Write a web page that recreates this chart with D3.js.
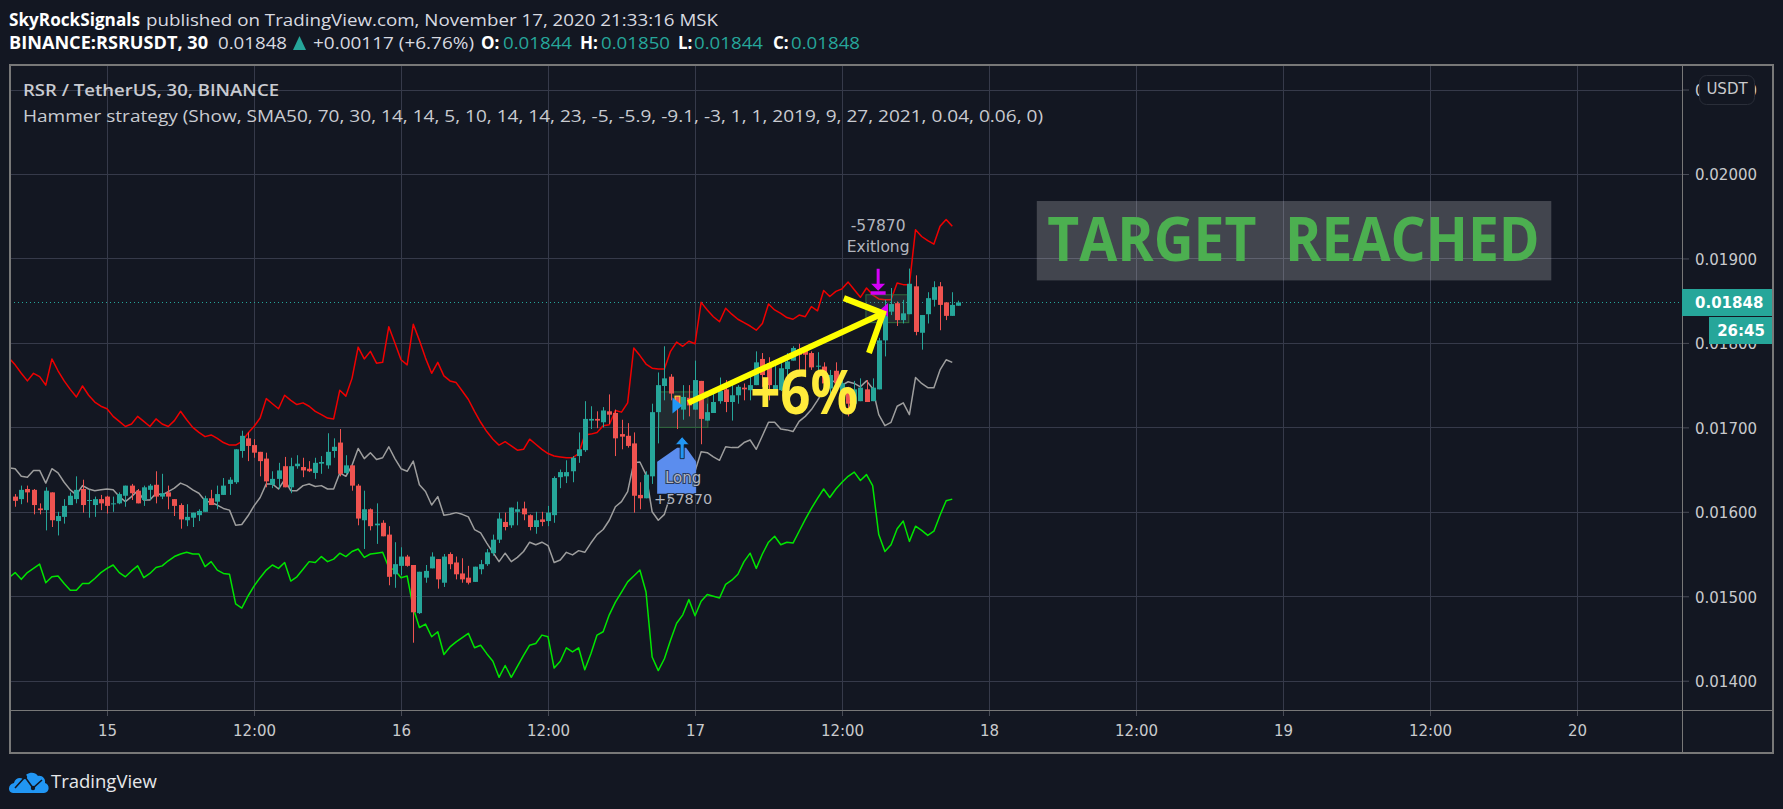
<!DOCTYPE html>
<html>
<head>
<meta charset="utf-8">
<script src="https://cdn.jsdelivr.net/npm/d3@7"></script>
<style>
html,body{margin:0;padding:0;background:#131722;overflow:hidden}
svg{display:block}
text{font-family:"DejaVu Sans",sans-serif}
</style>
</head>
<body>
<svg id="c" width="1783" height="809"></svg>
<script>
// Values in 0.00001 USDT. Bar 0 = Nov 15 00:00, 30-minute bars.
const PRICE_UNIT = 1e-5;
const firstCandleBar = -15;
const opens = [1618,1615,1627,1626,1604,1602,1623,1589,1594,1608,1615,1627,1613,1608,1615,
1618,1609,1610,1619,1631,1625,1614,1626,1632,1618,1623,1615,1608,1590,1593,1596,1600,1616,1612,1620,1633,1635,1672,1687,1679,1671,1663,1632,1639,1654,1629,1654,1653,1651,1646,1657,1655,
1672,1682,1646,1655,1631,1590,1603,1584,1587,1573,1526,1536,1547,1537,1480,1522,1533,1544,1516,1550,1540,1527,1522,1517,1532,1538,1551,1567,1588,1584,1600,1604,1596,1582,1591,1589,1596,1641,1642,1648,1666,1673,1708,1710,1706,1719,1717,1692,1690,1681,1620,1616,
1642,1718,1749,1760,1737,1721,1735,1721,1755,1708,1717,1731,1745,1730,1738,1747,1744,1750,1781,1776,1744,1744,1769,1779,1792,1792,1788,1772,1772,1746,1767,1738,1747,1728,1731,1745,1731,
1745,1803,1837,1847,1827,1834,1867,1812,1834,1851,1867,1848,1832,1844];
const highs = [1621,1631,1631,1627,1610,1629,1623,1600,1615,1623,1642,1638,1626,1618,1620,
1619,1618,1623,1631,1633,1627,1631,1633,1648,1645,1631,1615,1610,1609,1599,1603,1619,1626,1631,1640,1641,1674,1696,1694,1686,1671,1670,1648,1658,1665,1664,1667,1664,1660,1664,1666,1693,
1687,1698,1667,1655,1633,1625,1604,1610,1590,1583,1564,1558,1549,1537,1529,1537,1552,1544,1550,1552,1547,1545,1536,1535,1543,1556,1573,1599,1599,1605,1612,1612,1597,1600,1600,1607,1642,1650,1661,1666,1694,1731,1725,1719,1724,1739,1721,1709,1705,1694,1635,1648,
1728,1765,1796,1763,1737,1750,1750,1779,1755,1728,1744,1759,1756,1752,1750,1752,1760,1790,1788,1783,1776,1776,1788,1796,1799,1796,1790,1789,1777,1768,1777,1760,1748,1755,1758,1756,1758,
1806,1851,1865,1849,1851,1888,1880,1833,1860,1873,1872,1848,1860,1850];
const lows = [1606,1609,1611,1597,1597,1578,1582,1572,1586,1608,1610,1599,1593,1594,1602,
1598,1600,1609,1606,1614,1610,1607,1614,1610,1615,1603,1595,1580,1583,1582,1589,1600,1608,1603,1620,1620,1633,1664,1660,1664,1642,1629,1628,1627,1629,1622,1651,1641,1647,1639,1645,1651,
1664,1642,1645,1625,1584,1556,1578,1562,1571,1513,1510,1525,1535,1445,1479,1516,1533,1509,1511,1532,1520,1516,1514,1517,1526,1536,1548,1563,1578,1581,1584,1590,1578,1574,1583,1583,1587,1628,1634,1635,1658,1671,1698,1699,1700,1704,1666,1674,1676,1599,1603,1616,
1633,1681,1732,1732,1698,1709,1713,1721,1680,1708,1717,1728,1718,1708,1728,1732,1732,1750,1748,1732,1742,1743,1758,1779,1768,1768,1768,1758,1746,1734,1744,1732,1713,1724,1731,1730,1731,
1745,1784,1833,1820,1823,1834,1809,1792,1823,1843,1815,1827,1832,1844];
const closes = [1613,1626,1623,1608,1602,1625,1590,1595,1607,1619,1626,1608,1614,1615,1610,
1607,1610,1621,1631,1622,1610,1629,1631,1618,1622,1618,1607,1591,1594,1599,1601,1616,1608,1621,1631,1638,1674,1690,1678,1670,1660,1636,1639,1649,1629,1654,1657,1649,1648,1658,1659,1671,
1677,1645,1655,1631,1592,1603,1583,1586,1571,1523,1538,1547,1536,1481,1529,1530,1547,1520,1547,1538,1526,1520,1516,1535,1538,1552,1567,1592,1582,1605,1603,1597,1582,1590,1588,1599,1640,1647,1647,1664,1674,1710,1710,1708,1720,1715,1687,1689,1678,1619,1616,1644,
1718,1750,1758,1740,1728,1736,1726,1756,1710,1718,1730,1743,1730,1738,1748,1745,1750,1777,1762,1750,1750,1770,1778,1794,1786,1786,1771,1773,1752,1762,1752,1752,1728,1745,1747,1730,1747,
1803,1832,1846,1827,1835,1870,1813,1833,1853,1866,1845,1832,1845,1848];

const firstLineBar = -16;
const upperBand = [1782,1774,1764,1755,1764,1760,1750,1781,1767,1755,1745,1736,1749,1738,1730,1725,
1722,1713,1707,1701,1704,1713,1707,1701,1710,1704,1701,1708,1719,1709,1700,1694,1689,1691,1687,1682,1679,1679,1683,1693,1701,1711,1734,1728,1722,1738,1732,1727,1729,1725,1719,1715,1711,
1710,1744,1737,1758,1795,1781,1790,1776,1777,1819,1800,1780,1774,1822,1803,1782,1764,1777,1761,1755,1753,1743,1733,1719,1706,1695,1686,1679,1683,1678,1673,1674,1686,1680,1674,1669,1666,1665,1664,1664,1669,1691,1692,1694,1702,1703,1720,1718,1729,1794,1785,1775,
1770,1769,1769,1790,1801,1796,1802,1799,1848,1839,1831,1825,1841,1834,1828,1824,1820,1815,1823,1846,1839,
1835,1830,1828,1833,1831,1843,1838,1862,1855,1861,1864,1872,1863,1854,1865,1857,1852,1851,1851,1871,1869,1869,1934,1926,1921,1917,1938,1946,1938];
const middleBand = [1652,1651,1642,1641,1649,1649,1634,1651,1646,1635,1626,1620,1631,1627,1625,1626,
1627,1626,1618,1612,1618,1625,1614,1614,1622,1620,1624,1628,1634,1631,1626,1622,1613,1611,1608,1604,1602,1584,1585,1595,1607,1617,1633,1633,1627,1638,1625,1625,1631,1633,1630,1631,1627,
1627,1646,1642,1655,1675,1663,1670,1662,1664,1677,1663,1651,1648,1660,1632,1624,1608,1618,1596,1597,1599,1597,1594,1579,1575,1563,1552,1541,1551,1541,1546,1553,1564,1561,1564,1560,1540,1543,1552,1549,1554,1552,1563,1573,1579,1590,1606,1612,1624,1658,1659,1644,
1600,1590,1597,1620,1630,1634,1638,1648,1671,1670,1665,1661,1677,1676,1676,1682,1685,1674,1690,1706,1706,1698,1697,1695,1707,1713,1721,1732,1744,1752,1756,1750,1754,1752,1748,1755,1746,1715,1702,1706,1725,1729,1715,1759,1752,1747,1747,1768,1780,1777];
const lowerBand = [1522,1528,1520,1528,1533,1538,1516,1523,1524,1515,1507,1507,1515,1515,1521,1528,
1533,1537,1528,1523,1530,1536,1522,1527,1534,1536,1542,1547,1550,1552,1550,1550,1535,1541,1531,1527,1526,1491,1486,1500,1512,1522,1531,1537,1533,1540,1518,1523,1532,1541,1540,1547,1541,
1544,1551,1547,1553,1556,1546,1550,1551,1552,1534,1531,1522,1524,1486,1463,1467,1452,1458,1431,1440,1446,1451,1456,1439,1442,1432,1423,1404,1418,1404,1417,1430,1442,1444,1454,1452,1415,1423,1439,1434,1439,1413,1432,1454,1458,1478,1493,1505,1517,1524,1531,1505,
1428,1412,1426,1448,1468,1478,1496,1477,1494,1502,1500,1498,1514,1519,1526,1541,1551,1533,1550,1564,1571,1561,1564,1563,1577,1591,1604,1616,1627,1617,1627,1635,1642,1647,1637,1644,1631,1573,1553,1561,1580,1589,1565,1583,1578,1572,1577,1596,1613,1615];

const priceTicks = [0.014,0.015,0.016,0.017,0.018,0.019,0.020,0.021];
const timeTickBars = [0,24,48,72,96,120,144,168,192,216,240];
const timeTickLabels = ["15","12:00","16","12:00","17","12:00","18","12:00","19","12:00","20"];
const lastPrice = 0.01848;
const countdownText = "26:45";

// Drawings, anchored as [bar, price in 0.00001 units]
const arrowShaft = [[94.9,1729],[126.7,1835]];
const arrowBarbs = [[120.3,1853],[126.7,1835],[124.4,1788]];
const zoneLong = [[90.1,1742],[98.1,1700]];
const zoneExit = [[123.9,1857],[130.9,1824]];
const longMark = {bar:93.9, price:1689};
const longEntry = {bar:93.95, price:1726};
const exitMark = {bar:125.9, price:1857};
const exitEntry = {bar:126.2, price:1839};
const gainLabel = {bar:105, price:1716, text:"+6%"};

const W=1783,H=809,L=10,R=1682,T=65,B=710,FR=1773,FB=753;
const COL={bg:"#131722",grid:"#363a4a",frame:"#787878",up:"#26a69a",down:"#ef5350",tick:"#c9cacd"};
const SANS='"Open Sans",sans-serif';

const x=d3.scaleLinear().domain([-15.84,257.14]).range([L,R]);
const y=d3.scaleLinear().domain([0.0136531,0.0212907]).range([B,T]);
const py=v=>y(v*PRICE_UNIT);

const svg=d3.select("#c");
svg.append("rect").attr("width",W).attr("height",H).attr("fill",COL.bg);
svg.append("defs").append("clipPath").attr("id","plot").append("rect")
  .attr("x",L).attr("y",T).attr("width",R-L).attr("height",B-T);

// grid
const grid=svg.append("g");
grid.selectAll("line.h").data(priceTicks).join("line").attr("class","h")
  .attr("x1",L).attr("x2",R).attr("y1",d=>Math.round(y(d))+.5).attr("y2",d=>Math.round(y(d))+.5)
  .attr("stroke",COL.grid);
grid.selectAll("line.v").data(timeTickBars).join("line").attr("class","v")
  .attr("x1",d=>Math.round(x(d))+.5).attr("x2",d=>Math.round(x(d))+.5).attr("y1",T).attr("y2",B)
  .attr("stroke",COL.grid);

const plot=svg.append("g").attr("clip-path","url(#plot)");

// price line
plot.append("line").attr("x1",L).attr("x2",R).attr("y1",Math.round(y(lastPrice))+.5).attr("y2",Math.round(y(lastPrice))+.5)
  .attr("stroke",COL.up).attr("stroke-dasharray","1 3");

// target banner
const banner=svg.append("g");
banner.append("rect").attr("x",x(151.8)).attr("width",x(235.8)-x(151.8))
  .attr("y",py(1968)).attr("height",py(1874)-py(1968)).attr("fill","#fff").attr("fill-opacity",.2);
banner.append("text").attr("x",x(153.5)).attr("y",py(1897)).attr("textLength",x(233.9)-x(153.5))
  .attr("lengthAdjust","spacingAndGlyphs").style("font-family",SANS).style("white-space","pre")
  .attr("font-weight",700).attr("font-size",60).attr("fill","#4caf50").text("TARGET  REACHED");

// bands
const line=(arr)=>d3.line().x((d,i)=>x(firstLineBar+i)).y(d=>py(d))(arr);
[[upperBand,"#f00000"],[middleBand,"#9e9e9e"],[lowerBand,"#00e600"]].forEach(([a,c])=>
  plot.append("path").attr("d",line(a)).attr("fill","none").attr("stroke",c).attr("stroke-width",1.5).attr("stroke-linejoin","round"));

// zones
[zoneLong,zoneExit].forEach(z=>{
  plot.append("rect").attr("x",x(z[0][0])).attr("y",py(z[0][1])).attr("width",x(z[1][0])-x(z[0][0])).attr("height",py(z[1][1])-py(z[0][1]))
    .attr("fill","#6f8f7f").attr("fill-opacity",.17).attr("stroke","#2f6b3c");
});

// candles
const bars=opens.map((o,i)=>({bar:firstCandleBar+i,o,h:highs[i],l:lows[i],c:closes[i]}));
const cg=plot.selectAll("g.c").data(bars).join("g").attr("class","c");
cg.append("line")
  .attr("x1",d=>Math.round(x(d.bar))+.5).attr("x2",d=>Math.round(x(d.bar))+.5)
  .attr("y1",d=>py(d.h)).attr("y2",d=>py(d.l))
  .attr("stroke",d=>d.c>=d.o?COL.up:COL.down);
cg.append("rect")
  .attr("x",d=>Math.round(x(d.bar))-2).attr("width",5)
  .attr("y",d=>py(Math.max(d.o,d.c))).attr("height",d=>Math.max(1,Math.abs(py(d.o)-py(d.c))))
  .attr("fill",d=>d.c>=d.o?COL.up:COL.down)
  .attr("stroke",d=>d.bar===93?"#ffeb3b":"none");

// strategy marks
const mk=svg.append("g");
const lx=x(longMark.bar), ly=py(longMark.price);
mk.append("path").attr("d",`M${lx-25},${ly+25} L${lx-5},${ly+11} L${lx+4},${ly+11} L${lx+14},${ly+25} V${ly+57} H${lx-25} Z`).attr("fill","#5b8dee");
mk.append("path").attr("d",`M${lx},${ly} L${lx+7},${ly+8} H${lx+2} V${ly+22} H${lx-2} V${ly+8} H${lx-7} Z`).attr("fill","#2196f3").attr("stroke","#131722").attr("stroke-width",.8);
const ex=x(longEntry.bar), ey=py(longEntry.price);
mk.append("path").attr("d",`M${ex},${ey} L${ex-10},${ey-8} V${ey+8} Z`).attr("fill","#2196f3");
const xx=x(exitMark.bar), xy=py(exitMark.price);
mk.append("path").attr("d",`M${xx-1.5},${xy-26} H${xx+1.5} V${xy-11} H${xx+7} L${xx},${xy-4} L${xx-7},${xy-11} H${xx-1.5} Z M${xx-7.5},${xy-3.5} H${xx+7.5} V${xy} H${xx-7.5} Z`).attr("fill","#d500f9");
const ax=x(exitEntry.bar), ay=py(exitEntry.price);
mk.append("path").attr("d",`M${ax},${ay} L${ax+8},${ay-7} V${ay+7} Z`).attr("fill","#d500f9");

const label=(t,px,pyy,fs)=>mk.append("text").attr("x",px).attr("y",pyy).attr("text-anchor","middle").attr("font-size",fs)
  .attr("fill","#b2b5be").attr("stroke","#131722").attr("stroke-width",2).attr("stroke-opacity",.7).attr("paint-order","stroke").text(t);
label("Long",lx+1,ly+46,15);
label("+57870",lx+1,ly+67,14.5);
label("-57870",xx,xy-64,15.5);
label("Exitlong",xx,xy-43,15.5);

// yellow arrow + text
const ann=svg.append("g");
const pline=d3.line().x(d=>x(d[0])).y(d=>py(d[1]));
ann.append("path").attr("d",pline(arrowShaft)).attr("stroke","#ffff00").attr("stroke-width",6).attr("fill","none");
ann.append("path").attr("d",pline(arrowBarbs)).attr("stroke","#ffff00").attr("stroke-width",6).attr("fill","none");
ann.append("text").attr("x",x(gainLabel.bar)).attr("y",py(gainLabel.price)).attr("font-size",60).attr("font-weight",700)
  .style("font-family",SANS).attr("fill","#ffeb3b").attr("textLength",108).attr("lengthAdjust","spacingAndGlyphs").text(gainLabel.text);

// right axis
const yAxis=d3.axisRight(y).tickValues(priceTicks).tickFormat(d3.format(".5f")).tickSize(7).tickPadding(6);
const ya=svg.append("g").attr("transform",`translate(${R},1)`).call(yAxis);
ya.select(".domain").remove();
ya.selectAll("line").attr("stroke","#4a4d58").attr("transform","translate(0,-1)");
ya.selectAll("text").attr("fill",COL.tick).attr("font-size",15);

// bottom axis
const tickByBar=new Map(timeTickBars.map((b,i)=>[b,timeTickLabels[i]]));
const xAxis=d3.axisBottom(x).tickValues(timeTickBars).tickFormat(d=>tickByBar.get(d)).tickSize(6).tickPadding(9);
const xa=svg.append("g").attr("transform",`translate(0,${B})`).call(xAxis);
xa.select(".domain").remove();
xa.selectAll("line").attr("stroke","#4a4d58");
xa.selectAll("text").attr("fill",COL.tick).attr("font-size",15);

// frame
const fr=svg.append("g").attr("fill","none").attr("stroke",COL.frame);
fr.append("rect").attr("x",L).attr("y",T).attr("width",FR-L).attr("height",FB-T).attr("stroke-width",2);
fr.append("line").attr("x1",R+.5).attr("x2",R+.5).attr("y1",T).attr("y2",FB-1);
fr.append("line").attr("x1",L).attr("x2",FR).attr("y1",B+.5).attr("y2",B+.5);

// last price + countdown
const ylp=y(lastPrice);
svg.append("rect").attr("x",R).attr("y",289).attr("width",FR-R-1).attr("height",27).attr("fill",COL.up);
svg.append("text").attr("x",R+13).attr("y",ylp).attr("dy",".35em").attr("font-size",15).attr("font-weight",700).attr("fill","#fff").text(d3.format(".5f")(lastPrice));
svg.append("rect").attr("x",1709).attr("y",317).attr("width",63).attr("height",27).attr("fill",COL.up);
svg.append("text").attr("x",1741).attr("y",330.5).attr("dy",".35em").attr("text-anchor","middle").attr("font-size",15).attr("font-weight",700).attr("fill","#fff").text(countdownText);

// USDT button
svg.append("rect").attr("x",1699.5).attr("y",75.5).attr("width",55).attr("height",29).attr("rx",7).attr("fill",COL.bg).attr("stroke","#2a2e39");
svg.append("text").attr("x",1727).attr("y",89).attr("dy",".35em").attr("text-anchor","middle").attr("font-size",15).attr("fill",COL.tick).text("USDT");

// header
const hd=svg.append("g");
function t(x0,y0,s,fill,w,len){
  const n=hd.append("text").attr("x",x0).attr("y",y0).attr("fill",fill).attr("font-weight",w||400).text(s)
    .style("font-family",SANS).style("font-size","17px");
  if(len) n.attr("textLength",len).attr("lengthAdjust","spacingAndGlyphs");
  return n;
}
t(9,26,"SkyRockSignals","#fff",700,131);
t(146,26,"published on TradingView.com, November 17, 2020 21:33:16 MSK","#d8dae0",400,572);
t(9,49,"BINANCE:RSRUSDT, 30","#fff",700,199);
t(218,49,"0.01848","#d8dae0",400,69);
hd.append("path").attr("d","M293,50 L299.5,36 L306,50 Z").attr("fill",COL.up);
t(313,49,"+0.00117 (+6.76%)","#d8dae0",400,161);
[["O:",481,"0.01844",503],["H:",580,"0.01850",601],["L:",678,"0.01844",694],["C:",773,"0.01848",791]].forEach(([k,a,v,b])=>{
  t(a,49,k,"#fff",700); t(b,49,v,COL.up,400,69);
});
t(23,96,"RSR / TetherUS, 30, BINANCE","#c9cbd1",600,256);
t(23,122,"Hammer strategy (Show, SMA50, 70, 30, 14, 14, 5, 10, 14, 14, 23, -5, -5.9, -9.1, -3, 1, 1, 2019, 9, 27, 2021, 0.04, 0.06, 0)","#c9cbd1",400,1020);

// logo
const lg=svg.append("g").attr("transform","translate(9,771)");
lg.append("path").attr("d","M4,22 C-1.5,22 -1.5,13 5,12 C6,7 11,6 14,8 C16,2 25,-1 29,5 C33,4 37,8 36,12 C41,13 41,22 35,22 Z").attr("fill","#2196f3");
lg.append("path").attr("d","M6,17 L16,6 L24,17 L33,9").attr("fill","none").attr("stroke","#131722").attr("stroke-width",1.6);
lg.append("circle").attr("cx",16).attr("cy",6).attr("r",2.2).attr("fill","#131722");
lg.append("circle").attr("cx",24).attr("cy",17).attr("r",2.2).attr("fill","#131722");
svg.append("text").attr("x",51).attr("y",788).style("font-family",SANS).attr("font-size",18.5).attr("fill","#e6e7ea").text("TradingView");
</script>
</body>
</html>
